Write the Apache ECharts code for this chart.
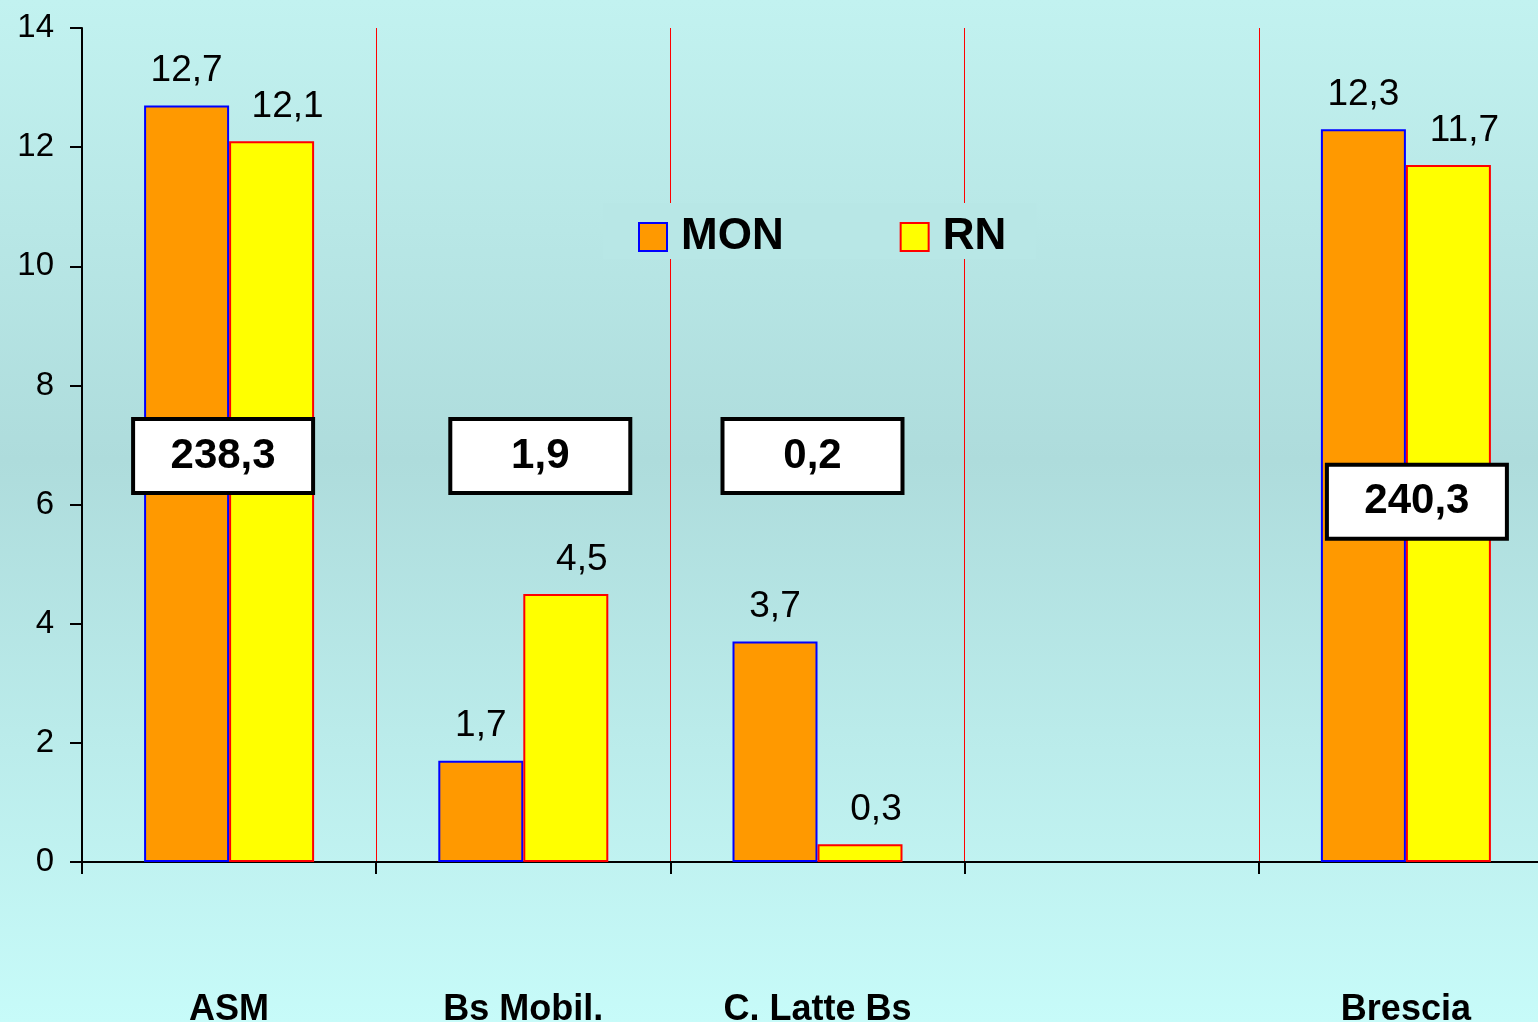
<!DOCTYPE html>
<html>
<head>
<meta charset="utf-8">
<script src="https://cdn.jsdelivr.net/npm/echarts@6/dist/echarts.min.js"></script>
<style>
  html, body { margin: 0; padding: 0; }
  #chart { width: 1538px; height: 1022px; }
</style>
</head>
<body>
<div id="chart"></div>
<script>
const categories = ["ASM", "Bs Mobil.", "C. Latte Bs", "", "Brescia"];
const monValues = [12.7, 1.7, 3.7, null, 12.3];
const rnValues = [12.1, 4.5, 0.3, null, 11.7];
const totalLabels = ["238,3", "1,9", "0,2", "", "240,3"];
const totalLevels = [6.85, 6.85, 6.85, null, 6.08];
const yTicks = [0, 2, 4, 6, 8, 10, 12, 14];

// small horizontal nudges of the white boxes, px
const boxShift = [-6, 17, -5, 0, 11];

const fontFamily = "Liberation Sans, Arial, sans-serif";
const fmt = (v) => v.toFixed(1).replace(".", ",");

const chart = echarts.init(document.getElementById("chart"));

chart.setOption({
  animation: false,
  backgroundColor: {
    type: "linear", x: 0, y: 0, x2: 0, y2: 1,
    colorStops: [
      { offset: 0, color: "#c2f2f0" },
      { offset: 0.45, color: "#aedcdc" },
      { offset: 1, color: "#c7fbf9" },
    ],
  },
  textStyle: { fontFamily: fontFamily },
  // plot runs a little past the right edge of the picture
  grid: {
    left: 82, width: 1471, top: 28, bottom: 160,
    containLabel: false, outerBoundsMode: "none",
  },
  legend: {
    data: ["MON", "RN"],
    left: 603,
    top: 203,
    padding: [12, 30, 0, 35],
    backgroundColor: "#b8e7e6",
    itemWidth: 28,
    itemHeight: 28,
    itemGap: 116,
    icon: "rect",
    textStyle: {
      fontSize: 44,
      fontWeight: "bold",
      color: "#000",
      padding: [0, 0, 0, 9],
    },
  },
  xAxis: {
    type: "category",
    data: categories,
    axisLine: { lineStyle: { color: "#000", width: 2 } },
    axisTick: { show: true, length: 12, lineStyle: { color: "#000", width: 2 } },
    axisLabel: {
      margin: 130,
      fontSize: 36,
      fontWeight: "bold",
      color: "#000",
    },
    splitLine: {
      show: true,
      lineStyle: { color: "#ff0000", width: 1 },
    },
  },
  yAxis: {
    type: "value",
    min: yTicks[0],
    max: yTicks[yTicks.length - 1],
    interval: 2,
    axisLine: { show: true, lineStyle: { color: "#000", width: 2 } },
    axisTick: { show: true, length: 12, lineStyle: { color: "#000", width: 2 } },
    axisLabel: { margin: 28, fontSize: 33, color: "#000" },
    splitLine: { show: false },
  },
  series: [
    {
      name: "MON",
      type: "bar",
      data: monValues,
      barWidth: 85,
      barGap: "0%",
      itemStyle: { color: "#ff9900", borderColor: "#0000ff", borderWidth: 2 },
      label: {
        show: true,
        position: "top",
        distance: 16,
        fontSize: 37,
        color: "#000",
        formatter: (p) => fmt(p.value),
      },
    },
    {
      name: "RN",
      type: "bar",
      data: rnValues,
      barWidth: 85,
      barGap: "0%",
      itemStyle: { color: "#ffff00", borderColor: "#ff0000", borderWidth: 2 },
      label: {
        show: true,
        position: "top",
        distance: 16,
        offset: [16, 0],
        fontSize: 37,
        color: "#000",
        formatter: (p) => fmt(p.value),
      },
    },
    {
      name: "totals",
      type: "scatter",
      symbolSize: 1,
      z: 10,
      itemStyle: { color: "rgba(0,0,0,0)", opacity: 1 },
      emphasis: { disabled: true },
      data: categories
        .map((c, i) => ({
          value: [i, totalLevels[i]],
          label: { offset: [boxShift[i], 2] },
          text: totalLabels[i],
        }))
        .filter((d) => d.value[1] !== null),
      label: {
        show: true,
        position: "inside",
        formatter: (p) => p.data.text,
        fontSize: 42,
        fontWeight: "bold",
        color: "#000",
        opacity: 1,
        backgroundColor: "#ffffff",
        borderColor: "#000",
        borderWidth: 4,
        width: 176,
        height: 70,
        lineHeight: 70,
        align: "center",
        verticalAlign: "middle",
      },
    },
  ],
});
</script>
</body>
</html>
